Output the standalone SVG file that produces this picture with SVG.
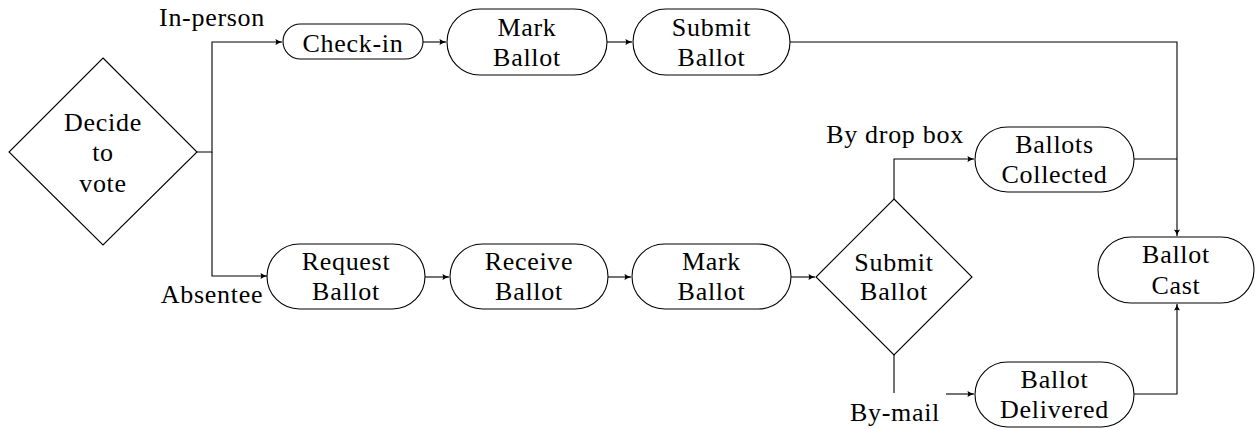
<svg xmlns="http://www.w3.org/2000/svg" width="1255" height="429" viewBox="0 0 1255 429">
  <style>
    .shape { fill: #ffffff; stroke: #000000; stroke-width: 1.1; }
    .edge { fill: none; stroke: #000000; stroke-width: 1.1; }
    .lbl { font-family: "Liberation Serif", "DejaVu Serif", serif; font-size: 26px; fill: #000000; text-anchor: middle; letter-spacing: 0.7px; }
  </style>
  <defs>
    <marker id="arrow" markerUnits="userSpaceOnUse" markerWidth="8" markerHeight="8" viewBox="0 0 8 8" refX="7" refY="4" orient="auto">
      <path d="M0.5,1 Q3.5,3.2 7,4 Q3.5,4.8 0.5,7 Q2,4 0.5,1 z" fill="#000000"/>
    </marker>
  </defs>
  <rect x="0" y="0" width="1255" height="429" fill="#ffffff"/>

  <!-- connectors -->
  <g id="connectors">
    <path class="edge" d="M196,152 H212 V42 H282" marker-end="url(#arrow)"/>
    <path class="edge" d="M212,152 V276 H267" marker-end="url(#arrow)"/>
    <path class="edge" d="M423,42 H446" marker-end="url(#arrow)"/>
    <path class="edge" d="M607,42 H632" marker-end="url(#arrow)"/>
    <path class="edge" d="M790,42 H1177 V236" marker-end="url(#arrow)"/>
    <path class="edge" d="M425,277 H449" marker-end="url(#arrow)"/>
    <path class="edge" d="M608,277 H631" marker-end="url(#arrow)"/>
    <path class="edge" d="M791,277 H815" marker-end="url(#arrow)"/>
    <path class="edge" d="M894,199 V159 H974" marker-end="url(#arrow)"/>
    <path class="edge" d="M1134,159 H1177"/>
    <path class="edge" d="M894,355 V393"/>
    <path class="edge" d="M946,394 H974" marker-end="url(#arrow)"/>
    <path class="edge" d="M1134,394 H1177 V304" marker-end="url(#arrow)"/>
  </g>

  <!-- edge labels -->
  <g id="edge-labels">
    <text class="lbl" x="212" y="26">In-person</text>
    <text class="lbl" x="212" y="303">Absentee</text>
    <text class="lbl" x="895" y="143">By drop box</text>
    <text class="lbl" x="895" y="421">By-mail</text>
  </g>

  <g id="decide">
    <polygon class="shape" points="103,58 197,152 103,245 9,152"/>
    <text class="lbl" x="103" y="131">Decide</text>
    <text class="lbl" x="103" y="161">to</text>
    <text class="lbl" x="103" y="192">vote</text>
  </g>

  <g id="checkin">
    <rect class="shape" x="283" y="24" width="140" height="35" rx="17.5"/>
    <text class="lbl" x="353" y="52">Check-in</text>
  </g>

  <g id="mark-top">
    <rect class="shape" x="447" y="9" width="160" height="66" rx="33"/>
    <text class="lbl" x="527" y="36">Mark</text>
    <text class="lbl" x="527" y="66">Ballot</text>
  </g>

  <g id="submit-top">
    <rect class="shape" x="633" y="9" width="157" height="66" rx="33"/>
    <text class="lbl" x="711.5" y="36">Submit</text>
    <text class="lbl" x="711.5" y="66">Ballot</text>
  </g>

  <g id="request">
    <rect class="shape" x="267" y="244" width="158" height="65" rx="32.5"/>
    <text class="lbl" x="346" y="270">Request</text>
    <text class="lbl" x="346" y="300">Ballot</text>
  </g>

  <g id="receive">
    <rect class="shape" x="450" y="244" width="158" height="65" rx="32.5"/>
    <text class="lbl" x="529" y="270">Receive</text>
    <text class="lbl" x="529" y="300">Ballot</text>
  </g>

  <g id="mark-bottom">
    <rect class="shape" x="632" y="244" width="159" height="65" rx="32.5"/>
    <text class="lbl" x="711.5" y="270">Mark</text>
    <text class="lbl" x="711.5" y="300">Ballot</text>
  </g>

  <g id="submit-decision">
    <polygon class="shape" points="894,199 972,277 894,355 816,277"/>
    <text class="lbl" x="894" y="271">Submit</text>
    <text class="lbl" x="894" y="300">Ballot</text>
  </g>

  <g id="collected">
    <rect class="shape" x="975" y="127" width="159" height="65" rx="32.5"/>
    <text class="lbl" x="1054.5" y="153">Ballots</text>
    <text class="lbl" x="1054.5" y="183">Collected</text>
  </g>

  <g id="cast">
    <rect class="shape" x="1098" y="237" width="156" height="66" rx="33"/>
    <text class="lbl" x="1176" y="263">Ballot</text>
    <text class="lbl" x="1176" y="294">Cast</text>
  </g>

  <g id="delivered">
    <rect class="shape" x="975" y="362" width="159" height="65" rx="32.5"/>
    <text class="lbl" x="1054.5" y="388">Ballot</text>
    <text class="lbl" x="1054.5" y="418">Delivered</text>
  </g>
</svg>
